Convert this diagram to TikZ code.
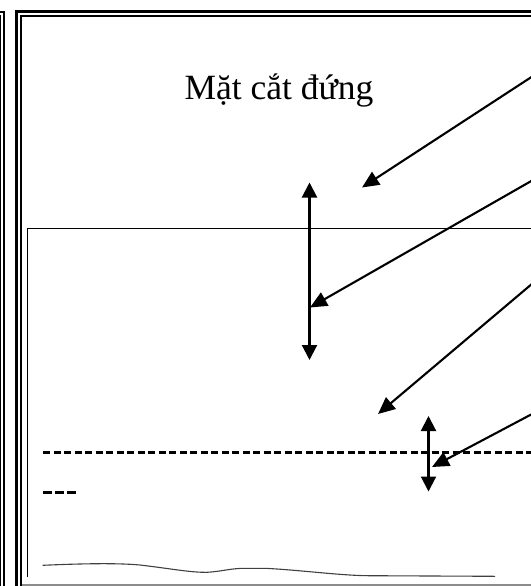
\documentclass[tikz,border=0pt]{standalone}
\usepackage{fontspec}
\setmainfont{Liberation Serif}
\usetikzlibrary{arrows.meta}
\tikzset{
  framethick/.style={line width=2.6bp,line cap=butt},
  framethin/.style={line width=1.8bp,line cap=butt},
  thinline/.style={line width=1.3bp},
  arr/.style={line width=2.1bp,-{Triangle[length=17bp,width=15bp]}},
  dblarr/.style={line width=2.1bp,{Triangle[length=15bp,width=15bp]}-{Triangle[length=15bp,width=15bp]}},
  dashline/.style={line width=2.5bp,dash pattern=on 7.4bp off 3.1bp},
  shortdash/.style={line width=2.5bp,dash pattern=on 9.4bp off 2.6bp},
  waterline/.style={line width=1.1bp,black!75},
}
\begin{document}
\begin{tikzpicture}[x=1bp,y=-1bp]
\useasboundingbox (0,0) rectangle (531,586);
\fill[white] (0,0) rectangle (531,586);
% left neighbouring panel edge
\draw[framethick] (0,12) -- (4,12) -- (4,586);
\draw[line width=1.2bp] (0,15.5) -- (0.8,15.5) -- (0.8,586);
% main frame
\draw[framethick] (16.3,586) -- (16.3,11.5) -- (531,11.5);
\draw[framethin] (21.2,586) -- (21.2,16) -- (531,16);
\draw[line width=1.2bp,black!45] (22,585) -- (531,585);
% section box
\draw[thinline] (27.5,577) -- (27.5,228.3) -- (531,228.3);
% title
\node[anchor=base,inner sep=0pt,font=\fontsize{35.5bp}{40bp}\selectfont] (title) at (279,100) {Mặt cắt đứng};
% dashed lines
\coordinate (d1a) at (43,452.3);
\coordinate (d1b) at (531,452.3);
\coordinate (d2a) at (43,492.3);
\coordinate (d2b) at (76.5,492.3);
\draw[dashline] (d1a) -- (d1b);
\draw[shortdash] (d2a) -- (d2b);
% bottom wavy line
\draw[waterline] (42.7,565.3) .. controls (90,563.2) and (120,563.2) .. (140,565)
  .. controls (170,568.5) and (190,572.5) .. (206.7,572.3)
  .. controls (222,571.5) and (230,568.3) .. (245,568.3)
  -- (265,568.3) .. controls (300,570) and (340,575.5) .. (368.3,575.7)
  -- (495,576.3);
% vertical double arrows
\coordinate (va1) at (309.5,182.5);
\coordinate (va2) at (309.5,360);
\coordinate (vb1) at (428.5,416);
\coordinate (vb2) at (428.5,491.5);
\draw[dblarr] (va1) -- (va2);
\draw[dblarr] (vb1) -- (vb2);
% leader arrows
\coordinate (s1) at (533,76);
\coordinate (t1) at (362,187.5);
\coordinate (s2) at (533,180);
\coordinate (t2) at (310,307.5);
\coordinate (s3) at (533,283);
\coordinate (t3) at (378,414);
\coordinate (s4) at (533,413.5);
\coordinate (t4) at (432,467);
\draw[arr] (s1) -- (t1);
\draw[arr] (s2) -- (t2);
\draw[arr] (s3) -- (t3);
\draw[arr] (s4) -- (t4);
\end{tikzpicture}
\end{document}
